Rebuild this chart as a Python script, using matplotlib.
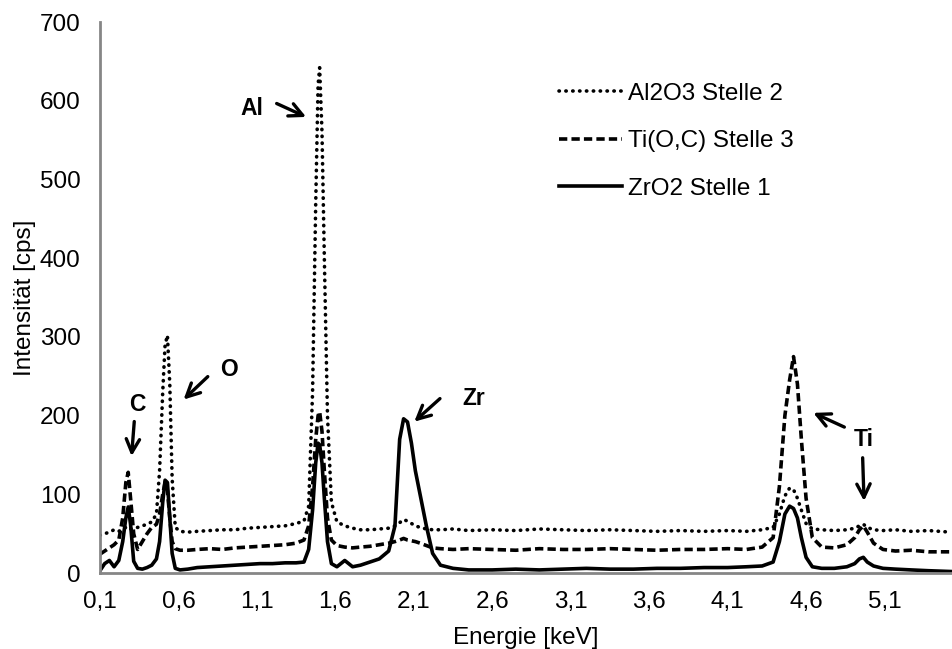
import numpy as np
import matplotlib
matplotlib.use('Agg')
import matplotlib.pyplot as plt

plt.rcParams['font.family'] = ['Liberation Sans', 'DejaVu Sans']

# energy axis (keV), shared by all three spectra
energy = [0.10, 0.13, 0.16, 0.19, 0.22, 0.245, 0.265, 0.28, 0.295, 0.315,
          0.34, 0.37, 0.40, 0.43, 0.46, 0.48, 0.50, 0.515, 0.53, 0.545,
          0.56, 0.58, 0.61, 0.66, 0.72, 0.80, 0.88, 0.96, 1.04, 1.12,
          1.20, 1.28, 1.35, 1.40, 1.43, 1.455, 1.475, 1.49, 1.50, 1.515,
          1.53, 1.55, 1.575, 1.61, 1.66, 1.71, 1.76, 1.82, 1.88, 1.94,
          1.98, 2.01, 2.035, 2.06, 2.085, 2.11, 2.14, 2.18, 2.22, 2.27,
          2.35, 2.45, 2.6, 2.75, 2.9, 3.05, 3.2, 3.35, 3.5, 3.65,
          3.8, 3.95, 4.1, 4.22, 4.32, 4.39, 4.43, 4.465, 4.495, 4.52,
          4.545, 4.57, 4.60, 4.64, 4.70, 4.78, 4.86, 4.91, 4.94, 4.965,
          4.99, 5.03, 5.09, 5.17, 5.27, 5.38, 5.52]

al2o3 = [48, 50, 52, 55, 53, 56, 58, 55, 56, 57,
         58, 60, 62, 65, 75, 130, 230, 290, 302, 240,
         120, 58, 53, 52, 53, 54, 55, 55, 57, 58,
         59, 60, 63, 66, 85, 230, 470, 620, 642, 560,
         400, 200, 90, 65, 60, 57, 55, 55, 56, 57,
         60, 64, 68, 66, 63, 60, 58, 56, 55, 55,
         56, 54, 55, 54, 56, 55, 54, 55, 54, 53,
         54, 53, 54, 53, 55, 58, 75, 98, 108, 106,
         95, 80, 63, 56, 55, 54, 55, 57, 60, 62,
         58, 55, 54, 55, 53, 54, 52]

tioc = [24, 28, 32, 36, 42, 70, 115, 128, 95, 50,
        30, 40, 50, 58, 62, 75, 100, 115, 105, 70,
        40, 31, 29, 29, 30, 31, 30, 32, 33, 34,
        35, 36, 38, 42, 60, 110, 170, 200, 205, 180,
        130, 70, 42, 35, 33, 32, 33, 34, 36, 38,
        40, 42, 44, 42, 41, 40, 38, 35, 32, 31,
        30, 31, 30, 29, 31, 30, 30, 31, 30, 29,
        30, 30, 31, 30, 33, 45, 110, 200, 245, 275,
        240, 170, 95, 45, 33, 32, 36, 45, 55, 60,
        52, 38, 30, 28, 29, 27, 27]

zro2 = [3, 12, 16, 8, 16, 40, 70, 84, 62, 15,
        6, 5, 7, 10, 18, 40, 90, 118, 115, 70,
        25, 6, 4, 5, 7, 8, 9, 10, 11, 12,
        12, 13, 13, 14, 30, 80, 140, 165, 163, 140,
        95, 40, 12, 8, 16, 8, 10, 14, 18, 28,
        60, 170, 196, 192, 165, 130, 100, 60, 25, 10,
        6, 4, 4, 5, 4, 5, 6, 5, 5, 6,
        6, 7, 7, 8, 9, 14, 40, 75, 85, 82,
        70, 45, 20, 8, 6, 6, 8, 12, 18, 20,
        14, 9, 6, 5, 4, 3, 2]

labels = ['Al2O3 Stelle 2', 'Ti(O,C) Stelle 3', 'ZrO2 Stelle 1']
xticks = [0.1, 0.6, 1.1, 1.6, 2.1, 2.6, 3.1, 3.6, 4.1, 4.6, 5.1]

fs = 17.5

fig = plt.figure(figsize=(9.52, 6.49), dpi=100)
ax = fig.add_axes([0.105, 0.117, 0.895, 0.849])

lw = 2.6
ax.plot(energy, al2o3, color='black', lw=lw, linestyle=(0, (0.1, 1.8)),
        dash_capstyle='round', label=labels[0])
ax.plot(energy, tioc, color='black', lw=lw, linestyle=(0, (2.3, 1.15)),
        label=labels[1])
ax.plot(energy, zro2, color='black', lw=lw, linestyle='-', label=labels[2])

ax.set_xlim(0.1, 5.53)
ax.set_ylim(0, 700)
ax.set_yticks(range(0, 701, 100))
ax.set_xticks(xticks)
ax.set_xticklabels([f'{t:.1f}'.replace('.', ',') for t in xticks])
ax.tick_params(length=0, labelsize=fs)
ax.tick_params(axis='x', pad=13)
ax.tick_params(axis='y', pad=14)

for s in ['top', 'right']:
    ax.spines[s].set_visible(False)
for s in ['left', 'bottom']:
    ax.spines[s].set_color('#868686')
    ax.spines[s].set_linewidth(2)

ax.set_xlabel('Energie [keV]', fontsize=fs, labelpad=10)
ax.set_ylabel('Intensität [cps]', fontsize=fs, labelpad=3)

leg = ax.legend(loc='upper left', bbox_to_anchor=(0.513, 0.93), frameon=False,
                fontsize=fs, handlelength=2.6, handletextpad=0.25,
                labelspacing=1.05)

# element annotations
arrow = dict(arrowstyle='->', lw=2.4, color='black', mutation_scale=24)
notes = [
    ('C', (0.335, 214), (0.32, 196), (0.30, 145)),
    ('O', (0.92, 258), (0.80, 252), (0.62, 218)),
    ('Al', (1.07, 590), (1.21, 598), (1.43, 578)),
    ('Zr', (2.48, 222), (2.28, 224), (2.09, 190)),
    ('Ti', (4.97, 170), (4.86, 184), (4.63, 205)),
]
for txt, tpos, tail, head in notes:
    ax.text(tpos[0], tpos[1], txt, fontsize=fs - 1, fontweight='bold',
            ha='center', va='center')
    ax.annotate('', xy=head, xytext=tail, arrowprops=arrow)
ax.annotate('', xy=(4.97, 88), xytext=(4.96, 150), arrowprops=arrow)

fig.savefig('out.png', dpi=100)
